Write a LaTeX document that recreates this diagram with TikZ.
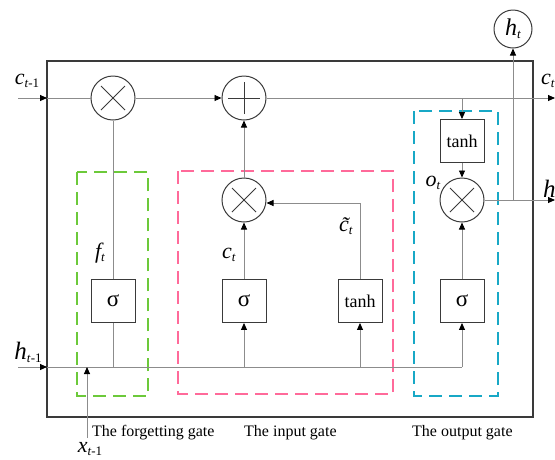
\documentclass[tikz,border=0pt]{standalone}
\usepackage{fontspec}
\setmainfont{Liberation Serif}
\usetikzlibrary{arrows.meta}
\definecolor{gategreen}{HTML}{6CC93A}
\definecolor{gatepink}{HTML}{FF6A9A}
\definecolor{gatecyan}{HTML}{18A8C6}
\definecolor{wire}{HTML}{8C8C8C}
\definecolor{frame}{HTML}{3A3A3A}
% variable with subscript: italic letter, subscript t italic, rest upright
\newcommand{\sv}[3][22]{{\fontsize{#1}{#1}\selectfont\itshape #2}\raisebox{-3pt}{\fontsize{13}{13}\selectfont\textit{t}#3}}
\begin{document}
\begin{tikzpicture}[x=1pt,y=-1pt,
  wirel/.style={draw=wire,line width=0.9pt},
  arr/.style={wirel,-{Triangle[length=7pt,width=6pt,color=black]}},
  opcircle/.style={circle,draw=frame,line width=1pt,minimum size=44pt,inner sep=0pt},
  multop/.style={opcircle,path picture={
      \draw[frame,line width=1pt] ([shift={(-12pt,-12pt)}]path picture bounding box.center) -- ([shift={(12pt,12pt)}]path picture bounding box.center);
      \draw[frame,line width=1pt] ([shift={(-12pt,12pt)}]path picture bounding box.center) -- ([shift={(12pt,-12pt)}]path picture bounding box.center);}},
  addop/.style={opcircle,path picture={
      \draw[frame,line width=1pt] ([shift={(-16pt,0pt)}]path picture bounding box.center) -- ([shift={(16pt,0pt)}]path picture bounding box.center);
      \draw[frame,line width=1pt] ([shift={(0pt,-16pt)}]path picture bounding box.center) -- ([shift={(0pt,16pt)}]path picture bounding box.center);}},
  actbox/.style={draw=frame,line width=0.9pt,minimum width=44pt,minimum height=43pt,inner sep=0pt,font=\fontsize{18}{18}\selectfont},
  sigma/.style={actbox,font=\fontsize{23}{23}\selectfont},
  gatebox/.style={line width=2.6pt,dash pattern=on 13pt off 7pt},
  caption/.style={font=\fontsize{16}{16}\selectfont,anchor=west,inner sep=0pt}
]
\useasboundingbox (0,0) rectangle (555,459);

% cell frame
\draw[frame,line width=1.2pt] (47,61) rectangle (533,417);

% gate regions
\draw[gategreen,gatebox] (77,172) rectangle (148,396);
\draw[gatepink,gatebox] (178,171) rectangle (393,394);
\draw[gatecyan,gatebox] (414,111) rectangle (498,396);

% operators
\node[multop] (mf) at (113,98) {};
\node[addop] (add) at (244,98) {};
\node[multop] (mi) at (244,200) {};
\node[multop] (mo) at (462,200) {};
\node[circle,draw=frame,line width=1pt,minimum size=38pt,inner sep=0pt] (ht) at (513,29) {\sv[24]{h}{}};

% activation layers
\node[sigma] (sf) at (113,301) {σ};
\node[sigma] (si) at (244,301) {σ};
\node[actbox] (tc) at (360,301) {tanh};
\node[sigma] (so) at (462,301) {σ};
\node[actbox] (tcell) at (462,141) {tanh};

% inputs and outputs
\coordinate (cin) at (18,98);
\coordinate (cinedge) at (47,98);
\coordinate (cout) at (555,98);
\coordinate (hin) at (18,367);
\coordinate (hinedge) at (47,367);
\coordinate (hturn) at (462,367);
\coordinate (hout) at (555,200);
\coordinate (xin) at (87,438);
\coordinate (xjoin) at (87,367);
\coordinate (cbranch) at (462,98);
\coordinate (hbranch) at (513,200);
\coordinate (tcturn) at (360,203);

% cell state path
\draw[arr] (cin) -- (cinedge);
\draw[wirel] (cinedge) -- (mf.west);
\draw[arr] (mf.east) -- (add.west);
\draw[arr] (add.east) -- (cout);
\draw[arr] (cbranch) -- (tcell.north);
\draw[arr] (tcell.south) -- (mo.north);

% hidden input path
\draw[arr] (hin) -- (hinedge);
\draw[wirel] (hinedge) -- (hturn);
\draw[arr] (hturn) -- (so.south);
\draw[wirel] (sf.south) -- (sf.south |- hin);
\draw[arr] (si.south |- hin) -- (si.south);
\draw[arr] (tc.south |- hin) -- (tc.south);
\draw[arr] (xin) -- (xjoin);

% gate outputs
\draw[wirel] (sf.north) -- (mf.south);
\draw[arr] (si.north) -- (mi.south);
\draw[arr] (mi.north) -- (add.south);
\draw[wirel] (tc.north) -- (tcturn);
\draw[arr] (tcturn) -- (mi.east |- tcturn);
\draw[arr] (so.north) -- (mo.south);

% hidden output
\draw[arr] (mo.east) -- (hout);
\draw[arr] (hbranch) -- (ht.south);

% labels
\node[inner sep=0pt] (lcin) at (27,81) {\sv{c}{-1}};
\node[inner sep=0pt,anchor=west] (lcout) at (541,81) {\sv{c}{}};
\node[inner sep=0pt] (lhin) at (28,352) {\sv[25]{h}{-1}};
\node[inner sep=0pt,anchor=west] (lhout) at (543,190) {\sv[25]{h}{}};
\node[inner sep=0pt] (lxin) at (90,449) {\sv{x}{-1}};
\node[inner sep=0pt] (lf) at (100,253) {\sv{f}{}};
\node[inner sep=0pt] (lc) at (229,255) {\sv{c}{}};
\node[inner sep=0pt] (lct) at (346,226) {{\fontsize{22}{22}\selectfont\itshape\~{c}}\raisebox{-3pt}{\fontsize{13}{13}\selectfont\textit{t}}};
\node[inner sep=0pt] (lo) at (433,183) {\sv{o}{}};

\node[caption] (capf) at (92,433) {The forgetting gate};
\node[caption] (capi) at (244,433) {The input gate};
\node[caption] (capo) at (412,433) {The output gate};
\end{tikzpicture}
\end{document}
